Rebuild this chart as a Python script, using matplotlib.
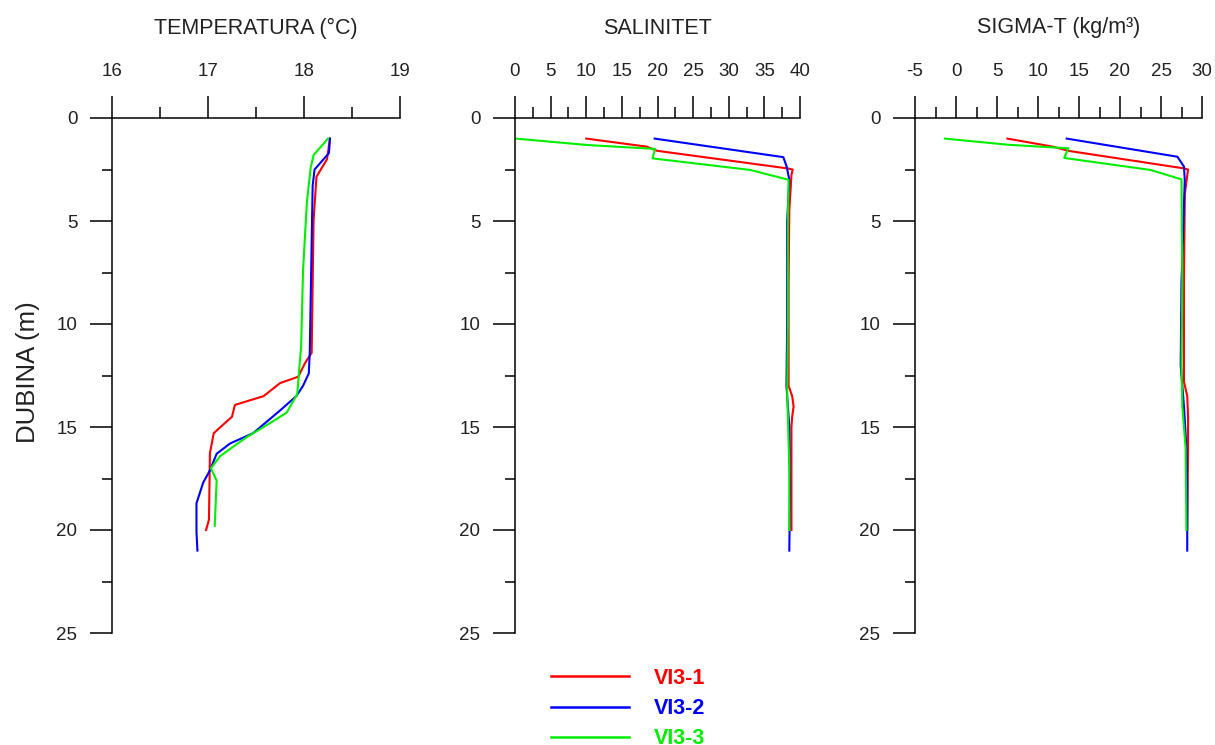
import matplotlib.pyplot as plt
import numpy as np

# Depth profiles, station VI3-1 / VI3-2 / VI3-3
# --- temperature
temp_d1 = [1.0, 2.0, 2.85, 4.95, 11.4, 11.9, 12.56, 12.87, 13.5, 13.93, 14.5, 15.3, 16.27, 19.5, 20.0]
temp_v1 = [18.27, 18.24, 18.13, 18.10, 18.08, 18.01, 17.94, 17.75, 17.58, 17.28, 17.25, 17.06, 17.02, 17.01, 16.98]
temp_d2 = [1.0, 1.7, 2.5, 3.3, 11.4, 12.4, 13.0, 13.5, 14.2, 15.3, 15.8, 16.3, 17.1, 17.7, 18.7, 20.1, 21.0]
temp_v2 = [18.27, 18.26, 18.11, 18.09, 18.06, 18.05, 17.99, 17.92, 17.75, 17.47, 17.23, 17.09, 17.02, 16.95, 16.88, 16.88, 16.89]
temp_d3 = [1.0, 1.8, 2.4, 4.1, 7.4, 11.1, 12.2, 13.4, 14.3, 15.0, 15.5, 16.4, 17.0, 17.6, 19.8]
temp_v3 = [18.25, 18.10, 18.07, 18.03, 17.99, 17.97, 17.95, 17.93, 17.82, 17.58, 17.40, 17.13, 17.03, 17.09, 17.07]

# --- salinity
sal_d1 = [1.0, 1.39, 1.59, 2.44, 2.5, 2.77, 4.5, 8.0, 13.0, 13.5, 14.0, 14.5, 15.0, 17.0, 20.0]
sal_v1 = [10.0, 18.5, 19.9, 38.1, 38.97, 38.8, 38.5, 38.4, 38.4, 38.9, 39.1, 38.9, 38.8, 38.8, 38.8]
sal_d2 = [1.0, 1.9, 2.36, 3.0, 5.0, 10.0, 13.0, 15.0, 18.0, 21.0]
sal_v2 = [19.6, 37.66, 38.13, 38.5, 38.2, 38.2, 38.1, 38.5, 38.6, 38.5]
sal_d3 = [1.0, 1.31, 1.5, 1.96, 2.52, 3.0, 5.0, 10.0, 13.5, 14.5, 17.0, 20.0]
sal_v3 = [0.1, 10.1, 19.65, 19.3, 33.0, 38.4, 38.3, 38.3, 38.2, 38.3, 38.5, 38.5]

# --- sigma-t
sig_d1 = [1.0, 1.39, 1.6, 2.44, 2.5, 3.7, 8.0, 12.8, 13.5, 14.5, 16.0, 20.0]
sig_v1 = [6.27, 11.8, 13.8, 27.7, 28.3, 27.9, 27.8, 27.8, 28.2, 28.3, 28.3, 28.2]
sig_d2 = [1.0, 1.88, 2.36, 3.0, 8.0, 12.0, 14.0, 16.0, 18.0, 21.0]
sig_v2 = [13.5, 27.0, 27.8, 27.9, 27.5, 27.4, 27.8, 28.1, 28.2, 28.2]
sig_d3 = [1.0, 1.3, 1.47, 1.94, 2.52, 2.98, 8.0, 12.0, 14.0, 16.0, 20.0]
sig_v3 = [-1.34, 6.4, 13.7, 13.2, 23.7, 27.5, 27.6, 27.5, 27.6, 28.0, 28.1]

stations = ['VI3-1', 'VI3-2', 'VI3-3']
colors = ['#ff0000', '#0000ff', '#00ee00']

panels = [
    ('TEMPERATURA (°C)', (16, 19), 1, 0.5,
     [(temp_v1, temp_d1), (temp_v2, temp_d2), (temp_v3, temp_d3)]),
    ('SALINITET', (0, 40), 5, 2.5,
     [(sal_v1, sal_d1), (sal_v2, sal_d2), (sal_v3, sal_d3)]),
    ('SIGMA-T (kg/m³)', (-5, 30), 5, 2.5,
     [(sig_v1, sig_d1), (sig_v2, sig_d2), (sig_v3, sig_d3)]),
]

plt.rcParams['font.family'] = ['Liberation Sans', 'DejaVu Sans']
plt.rcParams['axes.unicode_minus'] = False

W, H = 1215, 745
fig = plt.figure(figsize=(W / 100, H / 100), dpi=100)

lefts = [112, 515, 915]
widths = [288, 285, 287]
top, bottom = 118, 633
txt = '#222222'

for (title, xlim, major, minor, series), left, width in zip(panels, lefts, widths):
    ax = fig.add_axes([left / W, 1 - bottom / H, width / W, (bottom - top) / H])
    for (vals, deps), c in zip(series, colors):
        ax.plot(vals, deps, color=c, lw=1.5)
    ax.set_xlim(*xlim)
    ax.set_ylim(25, 0)

    ax.xaxis.tick_top()
    ax.set_xticks(np.arange(xlim[0], xlim[1] + 0.01, major))
    ax.set_xticks(np.arange(xlim[0], xlim[1] + 0.01, minor), minor=True)
    ax.set_yticks(np.arange(0, 26, 5))
    ax.set_yticks(np.arange(0, 26, 2.5), minor=True)

    ax.tick_params(axis='x', which='major', length=16, width=1.1, pad=11,
                   labelsize=13.5, labelcolor=txt, direction='out')
    ax.tick_params(axis='x', which='minor', length=8, width=1.1, direction='out')
    ax.tick_params(axis='y', which='major', length=16, width=1.1, pad=9,
                   labelsize=13.5, labelcolor=txt, direction='out')
    ax.tick_params(axis='y', which='minor', length=7, width=1.1, direction='out')

    for s in ['right', 'bottom']:
        ax.spines[s].set_visible(False)
    for s in ['left', 'top']:
        ax.spines[s].set_linewidth(1.1)
    ax.patch.set_visible(False)

    ax.text(0.5, (bottom - 28) / (bottom - top), title, transform=ax.transAxes,
            ha='center', va='center', fontsize=15.5, color=txt)

fig.text(28 / W, 1 - 372 / H, 'DUBINA (m)', rotation=90, ha='center', va='center',
         fontsize=18.5, color=txt)

handles = [plt.Line2D([], [], color=c, lw=1.8) for c in colors]
leg = fig.legend(handles, stations, loc='upper left',
                 bbox_to_anchor=(551 / W, 1 - 668 / H), frameon=False,
                 borderpad=0, borderaxespad=0, handlelength=3.6,
                 handletextpad=1.2, labelspacing=0.42,
                 prop={'weight': 'bold', 'size': 15.5}, labelcolor='linecolor')

fig.savefig('out.png', dpi=100)
